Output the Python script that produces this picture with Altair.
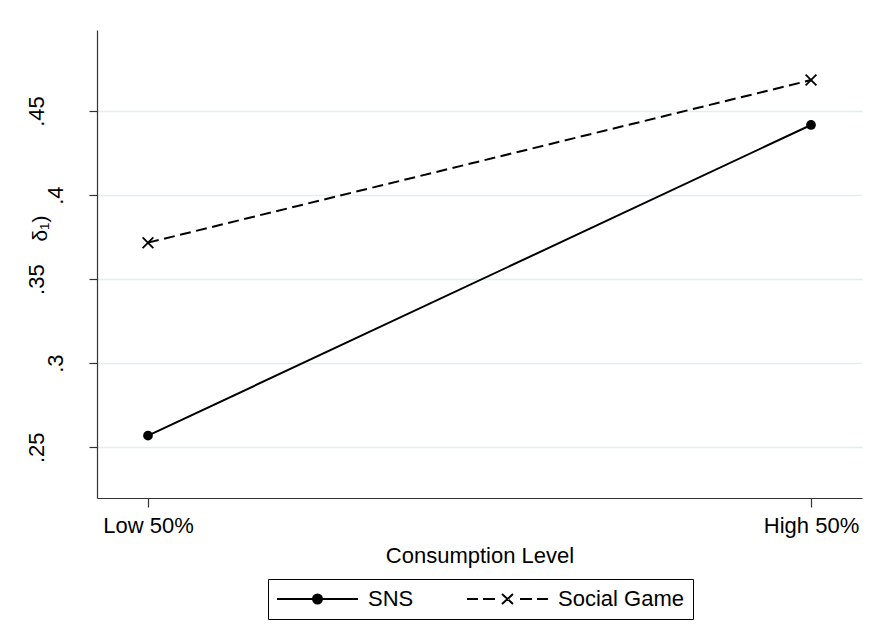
import altair as alt
import pandas as pd

# Category and series values
levels = ["Low 50%", "High 50%"]
series = ["SNS", "Social Game"]
sns = [0.2569, 0.4417]
social_game = [0.3717, 0.4684]
y_ticks = [0.25, 0.30, 0.35, 0.40, 0.45]

df = pd.DataFrame({
    "level": levels * 2,
    "series": [series[0]] * len(levels) + [series[1]] * len(levels),
    "value": sns + social_game,
})

FONT = "Liberation Sans"
AXIS_COLOR = "#333333"

# Marker paths
X_MARK = "M-1,-1L1,1M-1,1L1,-1"


def ring(r):
    return f"M{r},0A{r},{r} 0 1,1 -{r},0A{r},{r} 0 1,1 {r},0Z"


# Legend keys: line + marker drawn as a single stroked symbol
# (the dot is built from concentric rings so it reads as solid)
SNS_KEY = "M-4.05,0H4.05" + ring(0.45) + ring(0.3) + ring(0.15)
SG_KEY = ("M-4.05,0H-2.95M-2.45,0H-1.25"
          "M-0.55,-0.5L0.55,0.5M-0.55,0.5L0.55,-0.5"
          "M1.25,0H2.45M2.95,0H4.05")

x_enc = alt.X(
    "level:N",
    sort=levels,
    scale=alt.Scale(type="point", padding=0.0769),
    axis=alt.Axis(
        title="Consumption Level",
        labelAngle=0,
        labelFont=FONT, labelFontSize=22, labelColor="black",
        labelBaseline="top", labelPadding=8,
        tickSize=9, tickColor=AXIS_COLOR, tickWidth=1.2,
        domainColor=AXIS_COLOR, domainWidth=1.2,
        grid=False,
        titleFont=FONT, titleFontSize=22, titleFontWeight="normal",
        titleColor="black", titleBaseline="alphabetic", titleY=64,
    ),
)

# Short labels (.3, .4) sit closer to the axis than the three-character ones
short_label = "datum.value == 0.3 || datum.value == 0.4"

y_enc = alt.Y(
    "value:Q",
    scale=alt.Scale(domain=[0.2198, 0.4982], nice=False, zero=False),
    axis=alt.Axis(
        title="δ₁)",
        values=y_ticks,
        labelExpr="substring(format(datum.value, '.2~f'), 1)",
        labelAngle=270, labelAlign="center", labelBaseline="alphabetic",
        labelPadding={"condition": {"test": short_label, "value": 27}, "value": 46},
        labelFlush=False,
        labelFont=FONT, labelFontSize=22, labelColor="black",
        tickSize=8, tickColor=AXIS_COLOR, tickWidth=1.2,
        domainColor=AXIS_COLOR, domainWidth=1.2,
        grid=True, gridColor="#e4edf0", gridWidth=1.5,
        titleAngle=270, titleAlign="center", titleBaseline="alphabetic",
        titleX=-51, titleY=198,
        titleFont=FONT, titleFontSize=21, titleFontWeight="normal",
        titleColor="black",
    ),
)

base = alt.Chart(df).encode(x=x_enc, y=y_enc)

sns_line = base.transform_filter(alt.datum.series == "SNS").mark_line(
    color="black", strokeWidth=2
)
sg_line = base.transform_filter(alt.datum.series == "Social Game").mark_line(
    color="black", strokeWidth=2, strokeDash=[11, 5.5]
)

sns_pts = base.transform_filter(alt.datum.series == "SNS").mark_point(
    shape="circle", filled=True, size=95, color="black", opacity=1
)

sg_pts = base.transform_filter(alt.datum.series == "Social Game").mark_point(
    shape=X_MARK, filled=False, size=115, color="black", strokeWidth=1.8, opacity=1
)

# Invisible layer that only supplies the boxed legend
key = base.mark_point(
    filled=False, opacity=0, color="black", stroke="black", strokeWidth=2
).encode(
    shape=alt.Shape(
        "series:N",
        scale=alt.Scale(domain=series, range=[SNS_KEY, SG_KEY]),
        legend=alt.Legend(
            title=None,
            orient="none", legendX=171, legendY=549,
            direction="horizontal",
            symbolSize=400, symbolOffset=29.5, labelOffset=39.5,
            symbolOpacity=1,
            symbolStrokeColor="black", symbolStrokeWidth=2,
            labelFont=FONT, labelFontSize=22, labelColor="black",
            strokeColor="black", padding=9, columnPadding=49,
        ),
    )
)

chart = (
    alt.layer(sns_line, sg_line, sns_pts, sg_pts, key)
    .properties(
        width=765,
        height=468,
        autosize=alt.AutoSizeParams(type="none"),
        padding={"left": 97, "top": 30, "right": 13, "bottom": 140},
        background="white",
    )
    .configure_view(stroke=None)
)

chart.save("out.html", embed_options={"renderer": "svg", "actions": False})
